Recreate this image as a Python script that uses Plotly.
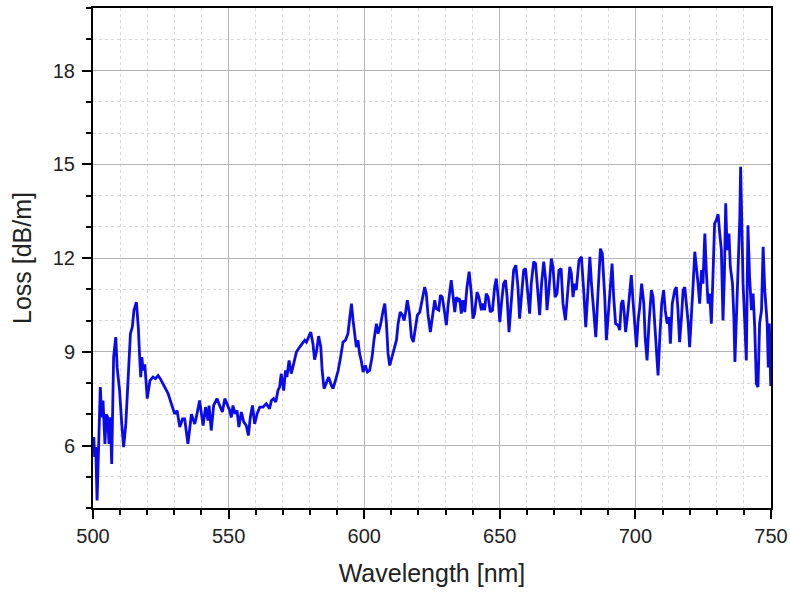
import plotly.graph_objects as go

wavelength_nm = [
    500.0, 500.3, 500.6, 501.0, 501.5, 502.0, 502.7, 503.2, 503.7, 504.4, 504.9, 505.4, 505.9, 506.4, 506.9,
    507.6, 508.4, 508.9, 509.8, 510.6, 511.3, 512.1, 512.9, 513.8, 514.5, 515.1, 516.0, 516.7, 517.2, 517.6,
    518.0, 518.5, 519.1, 520.0, 521.0, 522.1, 523.0, 524.0, 524.8, 525.8, 527.7, 529.3, 530.1, 531.0, 532.0,
    533.0, 533.8, 535.0, 535.7, 536.3, 537.5, 538.1,
    539.3, 540.0, 540.6, 541.5, 542.4, 542.8, 543.6, 544.5, 545.7, 546.7, 547.7, 548.6, 549.4, 550.4, 551.0,
    551.6, 552.4, 553.1, 553.8, 554.7, 555.6, 556.5, 557.3, 558.0, 558.8, 559.6, 560.5, 561.5, 562.7, 563.9,
    565.1, 565.8, 566.6, 567.4, 568.2, 568.8, 569.4, 570.3, 571.0, 571.5, 572.3, 573.1, 574.0, 575.0, 576.2,
    577.2, 578.1, 578.7, 579.6, 580.3, 581.1, 581.7, 582.4, 583.2,
    584.0, 584.5, 585.2, 586.0, 586.9, 587.9, 588.5, 589.4, 590.4, 591.3, 592.2, 593.1, 594.0, 594.7, 595.3,
    595.9, 596.5, 597.1, 597.7, 598.3, 598.9, 599.6, 600.4, 601.2, 602.0, 602.9, 603.6, 604.5, 605.1, 606.0,
    607.0, 607.6, 608.2, 608.8, 609.4, 610.3, 611.25, 611.9, 612.5, 613.3, 614.1, 614.7, 615.2, 615.9, 616.7,
    617.4, 618.1, 618.9, 619.6,
    620.5, 621.7, 622.3, 622.9, 623.5, 624.4, 625.1, 626.0, 626.6, 627.5, 628.1, 628.8, 629.7, 630.3, 631.0,
    632.1, 632.8, 633.4, 634.0, 634.6, 635.2, 635.8, 636.4, 637.1, 637.9, 638.7, 639.5, 640.1, 640.7, 641.6,
    642.3, 643.2, 643.8, 644.4, 645.0, 645.7, 646.5, 647.3, 648.1, 648.7, 649.4, 650.0, 650.6, 651.4, 652.1,
    652.7, 653.4, 654.3, 655.1, 655.9, 656.7, 657.3, 658.1, 658.8, 659.5, 660.4, 661.0, 661.6, 662.5, 663.2,
    664.1, 664.7, 665.4, 666.2, 666.9, 667.4, 668.1, 669.0, 669.6, 670.4, 671.1, 671.8, 672.6, 673.3, 674.2,
    674.9, 675.8, 676.4, 677.0, 677.6, 678.2, 679.2, 680.1, 681.0, 681.7, 682.5, 683.2,
    683.8, 684.6, 685.4, 686.2, 687.1, 687.8, 688.7, 689.3, 689.9, 690.8, 691.4, 692.0, 692.7, 693.6, 694.2,
    694.8, 695.4, 695.9, 696.4, 697.3, 697.9, 698.5, 699.1, 699.7, 700.4, 701.0, 701.6, 702.3, 703.1, 703.6,
    704.3, 705.0, 705.9, 706.5, 707.1, 707.7, 708.35, 709.0, 709.7, 710.4, 711.0, 711.7, 712.4, 712.9, 713.6,
    714.5, 715.1, 715.7, 716.3, 717.0, 717.6, 718.2, 718.8, 719.5, 720.0, 720.6, 721.3, 721.9, 722.5, 723.1,
    723.7, 724.4, 724.9, 725.6, 726.2, 726.8, 727.4, 728.0, 728.6, 729.2, 729.8, 730.5, 731.1, 731.7, 732.3,
    732.8, 733.3, 733.8, 734.5, 735.0, 735.8, 736.3, 736.7, 737.2, 737.9, 738.5, 738.8, 739.3, 739.7, 740.3,
    740.9, 741.5, 742.1, 742.8, 743.4, 744.0, 744.6, 745.2, 745.8, 746.5, 747.1, 747.7, 748.3, 748.6, 749.0,
    749.4, 749.9,
]

loss_db_per_m = [
    6.0, 6.27, 5.63, 5.95, 4.24, 5.63, 7.87, 6.9, 7.44, 6.05, 7.0, 6.9, 6.05, 6.9, 5.41,
    8.83, 9.47, 8.5, 7.76, 6.69, 5.95, 6.69, 8.3, 9.58, 9.79, 10.33, 10.59, 9.79, 8.83, 8.19,
    8.83, 8.4, 8.6, 7.5, 8.08, 8.19, 8.14, 8.24, 8.14, 7.98, 7.66, 7.23, 7.01, 7.12, 6.59,
    6.85, 6.85, 6.05, 6.48, 7.0, 6.69, 6.9,
    7.44, 7.0, 6.64, 7.23, 6.8, 7.28, 6.48, 7.28, 7.5, 7.28, 7.07, 7.5, 7.34, 7.12, 6.9,
    7.28, 7.01, 7.12, 6.59, 7.07, 6.75, 6.64, 6.32, 6.9, 7.28, 6.69, 7.01, 7.23, 7.23, 7.34,
    7.18, 7.44, 7.5, 7.39, 7.76, 7.87, 8.3, 7.76, 8.4, 8.19, 8.72, 8.3, 8.62, 8.99, 9.15,
    9.26, 9.37, 9.31, 9.47, 9.63, 9.26, 8.75, 9.0, 9.5,
    9.15, 8.4, 7.82, 7.98, 8.19, 7.92, 7.82, 8.08, 8.4, 8.83, 9.31, 9.37, 9.58, 10.11, 10.54,
    10.0, 9.47, 9.15, 9.37, 8.94, 8.72, 8.35, 8.56, 8.35, 8.4, 8.83, 9.37, 9.9, 9.58, 9.85,
    10.33, 10.54, 9.9, 8.94, 8.56, 8.83, 9.1, 9.37, 9.9, 10.27, 10.17, 10.0, 10.22, 10.65, 10.22,
    9.47, 9.31, 9.79, 10.17,
    10.27, 10.75, 11.07, 10.86, 10.22, 9.63, 10.11, 10.65, 10.38, 10.33, 10.81, 10.75, 10.22, 9.85, 10.54,
    11.29, 10.75, 10.27, 10.75, 10.65, 10.7, 10.22, 10.65, 10.27, 11.07, 11.56, 10.86, 10.06, 10.22, 10.91,
    10.75, 10.33, 10.54, 10.33, 10.86, 10.75, 10.27, 10.33, 11.07, 11.34, 10.75, 9.95, 10.54, 11.18, 11.29,
    10.75, 9.63, 10.54, 11.61, 11.77, 11.07, 10.06, 10.86, 11.61, 11.66, 10.75, 10.22, 11.18, 11.88, 11.82,
    10.65, 10.17, 11.18, 11.88, 11.29, 10.33, 10.97, 11.98, 11.72, 10.75, 10.86, 11.61, 11.66, 10.54, 10.01,
    10.86, 11.72, 11.5, 10.75, 11.18, 10.97, 11.93, 12.04, 10.86, 9.79, 10.97, 12.04,
    11.18, 10.33, 9.47, 10.86, 12.3, 12.14, 10.75, 9.37, 10.11, 11.18, 11.82, 10.75, 9.9, 9.85, 9.69,
    10.54, 10.65, 10.22, 9.63, 10.33, 10.97, 11.45, 10.65, 9.79, 9.15, 10.0, 10.43, 11.18, 10.54, 9.47,
    8.72, 9.9, 10.97, 10.75, 9.9, 9.05, 8.24, 9.47, 10.54, 10.97, 10.33, 9.9, 10.11, 9.26, 10.54,
    10.97, 11.07, 10.33, 9.31, 10.11, 10.97, 11.07, 10.54, 9.9, 9.15, 10.33, 11.18, 12.2, 11.72, 11.18,
    10.54, 11.61, 11.18, 12.78, 11.5, 10.54, 10.86, 9.9, 11.4, 13.1, 13.2, 13.4, 12.78, 12.25, 10.0,
    11.4, 13.75, 12.25, 12.78, 11.72, 11.18, 10.11, 8.67, 9.9, 11.72, 13.3, 14.92, 12.78, 11.18, 10.0,
    8.72, 13.05, 11.4, 10.33, 10.86, 9.79, 7.98, 7.87, 9.9, 10.33, 12.36, 10.97, 10.0, 9.9, 8.5,
    9.9, 7.9,
]

x_range = [500, 750]
y_range = [4, 20]
x_ticks = [500, 550, 600, 650, 700, 750]
y_ticks = [6, 9, 12, 15, 18]

FONT = "Liberation Sans, Arial, sans-serif"

fig = go.Figure()
fig.add_trace(go.Scatter(
    x=wavelength_nm, y=loss_db_per_m, mode="lines",
    line=dict(color="#0a0aeb", width=2.8),
    showlegend=False,
))

axis_common = dict(
    showline=True, linecolor="black", linewidth=2, mirror=True,
    ticks="outside", ticklen=9, tickwidth=2, tickcolor="black",
    showgrid=True, gridcolor="#b4b4b4", gridwidth=1,
    zeroline=False, automargin=False,
    tickfont=dict(family=FONT, size=20, color="#222222"),
    title_font=dict(family=FONT, size=25, color="#222222"),
)

fig.update_xaxes(
    range=x_range, tickvals=x_ticks,
    minor=dict(dtick=10, tick0=500, ticks="outside", ticklen=5, tickwidth=2, tickcolor="black",
               showgrid=True, gridcolor="#d8d8d8", griddash="dot", gridwidth=1),
    title_text="Wavelength [nm]", title_standoff=18,
    ticklabeloverflow="allow",
    **axis_common,
)
fig.update_yaxes(
    range=y_range, tickvals=y_ticks,
    minor=dict(dtick=1, tick0=0, ticks="outside", ticklen=5, tickwidth=2, tickcolor="black",
               showgrid=True, gridcolor="#d8d8d8", griddash="dot", gridwidth=1),
    title_text="Loss [dB/m]", title_standoff=14,
    ticklabelstandoff=3,
    **axis_common,
)

fig.update_layout(
    width=790, height=592,
    margin=dict(l=93, r=19, t=8, b=84),
    plot_bgcolor="white", paper_bgcolor="white",
)

fig.write_html(
    "out.html",
    config={"displayModeBar": False},
    post_script="document.body.style.margin='0';document.documentElement.style.overflow='hidden';document.body.style.overflow='hidden';",
)
